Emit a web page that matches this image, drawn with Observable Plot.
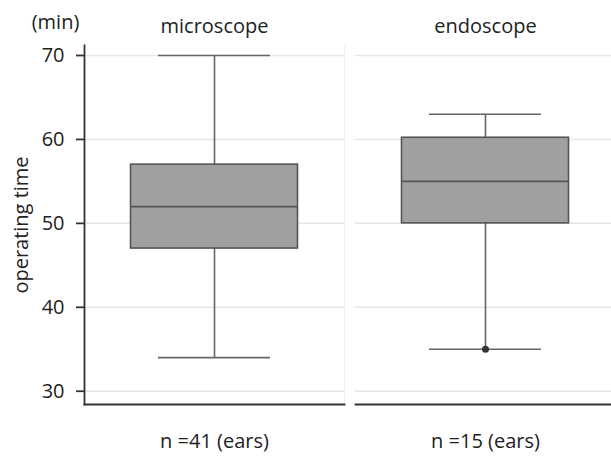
<!DOCTYPE html>
<html>
<head>
<meta charset="utf-8">
<script src="https://cdn.jsdelivr.net/npm/d3@7"></script>
<script src="https://cdn.jsdelivr.net/npm/@observablehq/plot@0.6"></script>
<style>
  html, body { margin: 0; padding: 0; background: #fff; }
</style>
</head>
<body>
<div id="chart"></div>
<script>
const methods = ["microscope", "endoscope"];
const nLabels = ["n =41 (ears)", "n =15 (ears)"];
const mins = [34, 35];
const q1s = [47, 50];
const medians = [52, 55];
const q3s = [57, 60.2];
const maxs = [70, 63];
const outlierMethods = ["endoscope"];
const outlierValues = [35];
const yTicks = [30, 40, 50, 60, 70];
const yLabel = "operating time";
const unitLabel = "(min)";

const stats = methods.map((m, i) => ({method: m, min: mins[i], q1: q1s[i], median: medians[i], q3: q3s[i], max: maxs[i]}));
const outliers = outlierMethods.map((m, i) => ({method: m, value: outlierValues[i]}));
const nByMethod = new Map(methods.map((m, i) => [m, nLabels[i]]));
const firstPanel = [{method: methods[0], unit: unitLabel, title: yLabel}];

const boxInset = 46.5;
const capInset = 74;
const dark = "#333";
const boxStroke = "#555";
const whisker = "#666";

const chart = Plot.plot({
  width: 611,
  height: 460,
  marginLeft: 84,
  marginRight: -4,
  marginTop: 45,
  marginBottom: 56,
  style: {fontFamily: "'Open Sans', sans-serif", fontSize: "20px", color: "#222", background: "#fff"},
  fx: {domain: methods, paddingInner: 0.0406, paddingOuter: 0, axis: null},
  y: {domain: [28.42, 71.19], ticks: yTicks},
  marks: [
    Plot.gridY(yTicks, {stroke: "#e6e6e6", strokeOpacity: 1, strokeWidth: 1.5}),
    Plot.frame({anchor: "right", stroke: "#eeeeee", strokeWidth: 1}),
    Plot.frame({anchor: "bottom", stroke: dark, strokeWidth: 1.8}),
    Plot.frame({anchor: "left", stroke: dark, strokeWidth: 1.8, fx: ["microscope"]}),
    Plot.axisY(yTicks, {anchor: "left", tickSize: 8, tickPadding: 12, stroke: dark, strokeWidth: 1.8,
      label: null, fill: "#222"}),
    Plot.text(firstPanel, {fx: "method", text: "title", frameAnchor: "left", rotate: -90,
      textAnchor: "middle", lineAnchor: "middle", dx: -63, fill: "#222"}),
    Plot.axisFx({anchor: "top", tickSize: 0, tickPadding: 13, label: null, fill: "#222"}),
    Plot.axisFx({anchor: "bottom", tickSize: 0, tickPadding: 29, label: null, fill: "#222",
      tickFormat: (d) => nByMethod.get(d)}),
    Plot.text(firstPanel, {fx: "method", text: "unit", frameAnchor: "top-left",
      textAnchor: "middle", lineAnchor: "middle", dx: -29, dy: -23, fill: "#222"}),
    Plot.ruleX(stats, {fx: "method", x: null, y1: "min", y2: "q1", stroke: whisker, strokeWidth: 1.6}),
    Plot.ruleX(stats, {fx: "method", x: null, y1: "q3", y2: "max", stroke: whisker, strokeWidth: 1.6}),
    Plot.tickY(stats, {fx: "method", y: "min", insetLeft: capInset, insetRight: capInset, stroke: whisker, strokeWidth: 1.6}),
    Plot.tickY(stats, {fx: "method", y: "max", insetLeft: capInset, insetRight: capInset, stroke: whisker, strokeWidth: 1.6}),
    Plot.barY(stats, {fx: "method", y1: "q1", y2: "q3", insetLeft: boxInset, insetRight: boxInset,
      fill: "#a0a0a0", stroke: boxStroke, strokeWidth: 1.6}),
    Plot.tickY(stats, {fx: "method", y: "median", insetLeft: boxInset, insetRight: boxInset, stroke: boxStroke, strokeWidth: 1.8}),
    Plot.dot(outliers, {fx: "method", y: "value", r: 3.5, fill: dark, stroke: "none"})
  ]
});
document.getElementById("chart").appendChild(chart);
</script>
</body>
</html>
